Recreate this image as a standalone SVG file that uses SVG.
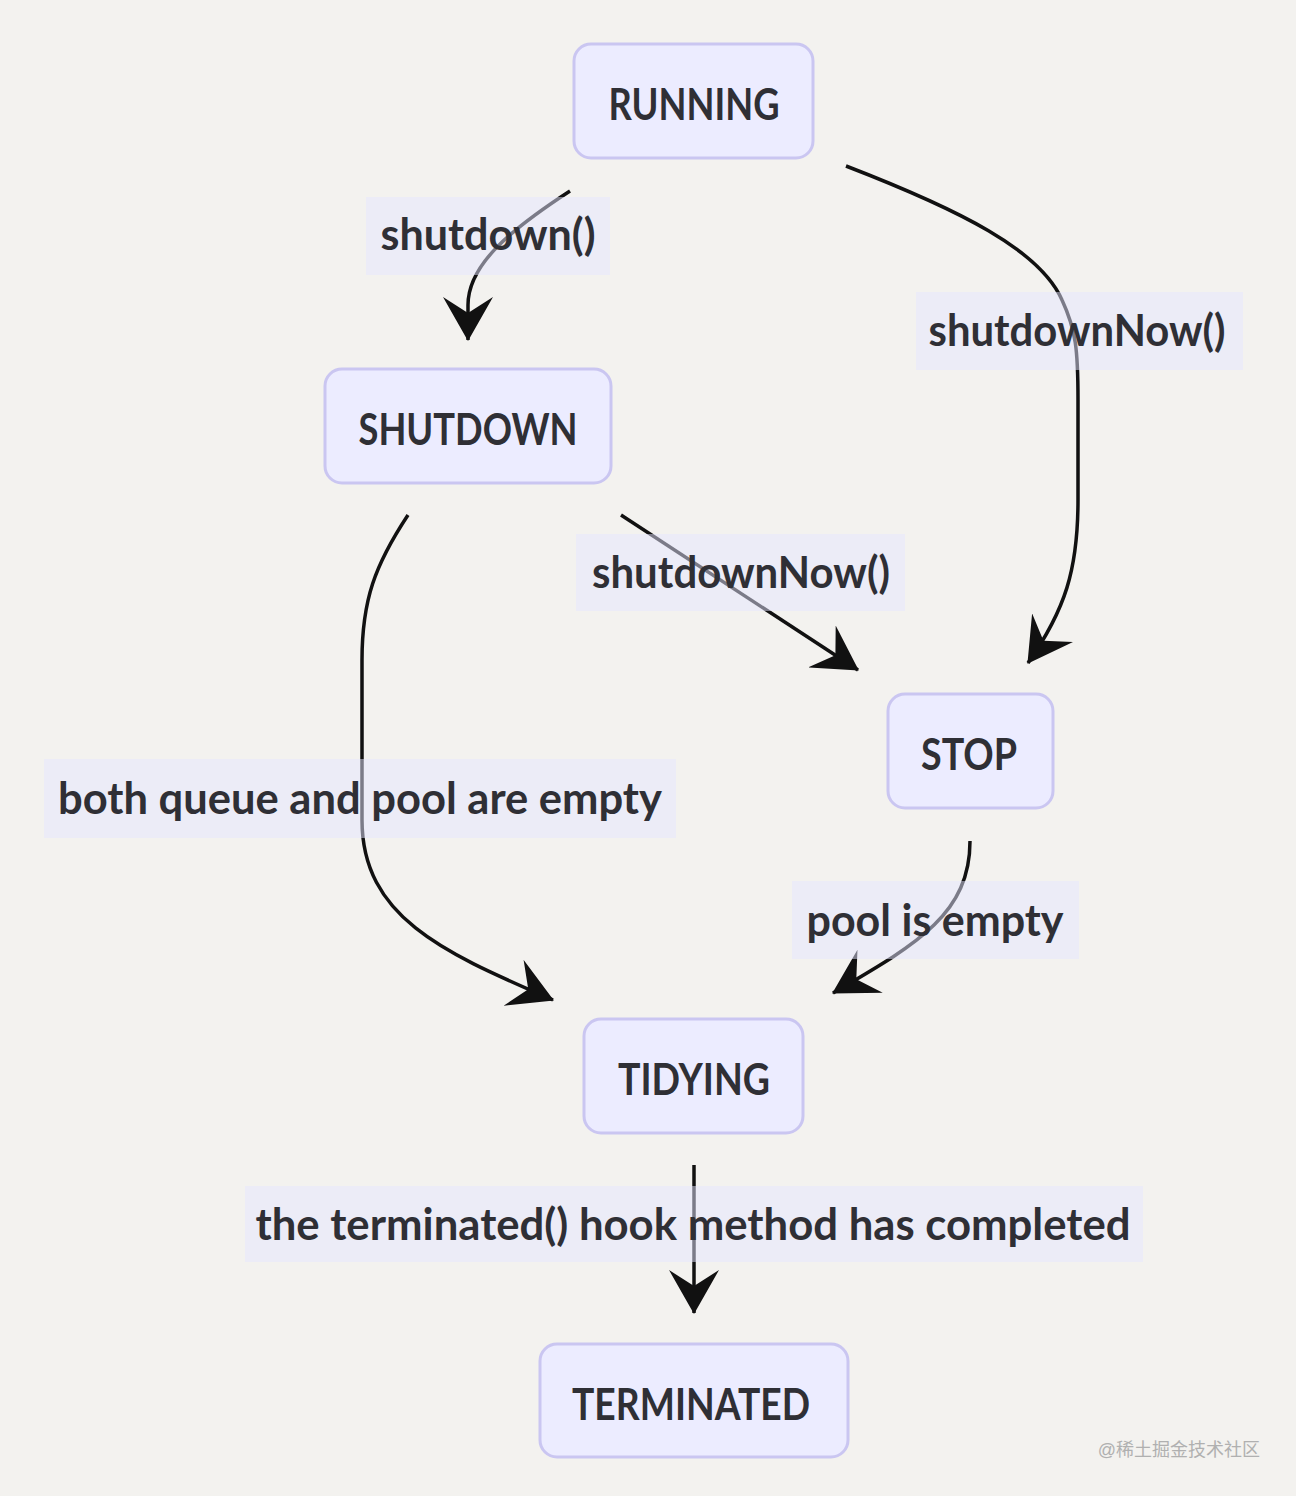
<svg xmlns="http://www.w3.org/2000/svg" width="1296" height="1496" viewBox="0 0 1296 1496">
<style>
.node rect{fill:#ECECFF;stroke:#CAC6F1;stroke-width:3}
.node text{font-family:Lato,"Open Sans","Liberation Sans",sans-serif;font-weight:700;font-size:43px;fill:#2f2f35;text-anchor:middle}
.edge{fill:none;stroke:#111;stroke-width:3.5;marker-end:url(#arrow)}
.lbl rect{fill:#e6e6ff;fill-opacity:0.5}
.lbl text{font-family:Lato,"Open Sans","Liberation Sans",sans-serif;font-weight:700;font-size:43px;fill:#2f2f35;text-anchor:middle}
</style>
<defs>
<marker id="arrow" viewBox="0 0 44 50" refX="43" refY="25" markerWidth="44" markerHeight="50" markerUnits="userSpaceOnUse" orient="auto">
<path d="M44,25 L0,50 L16,25 L0,0 Z" fill="#111"/>
</marker>
</defs>
<rect width="1296" height="1496" fill="#f3f2ef"/>
<g id="connectors">
<path class="edge" d="M570,191 C510,230 468,265 468,305 L468,340"/>
<path class="edge" d="M846,166 C960,210 1040,250 1062,300 C1076,330 1078,350 1078,400 L1078,500 C1078,570 1065,610 1028,663"/>
<path class="edge" d="M621,515 L858,670"/>
<path class="edge" d="M408,515 C375,565 362,600 362,660 L362,820 C362,920 450,955 553,1000"/>
<path class="edge" d="M970,841 C970,915 915,945 833,993"/>
<path class="edge" d="M694,1165 L694,1313"/>
</g>
<g id="edge-labels">
<g class="lbl" id="label-shutdown"><rect x="366" y="197" width="244" height="78"/><text x="488" y="250" textLength="215" lengthAdjust="spacingAndGlyphs">shutdown()</text></g>
<g class="lbl" id="label-shutdownNow-1"><rect x="916" y="292" width="327" height="78"/><text x="1077" y="346" textLength="297" lengthAdjust="spacingAndGlyphs">shutdownNow()</text></g>
<g class="lbl" id="label-shutdownNow-2"><rect x="576" y="534" width="329" height="77"/><text x="741" y="588" textLength="298" lengthAdjust="spacingAndGlyphs">shutdownNow()</text></g>
<g class="lbl" id="label-both"><rect x="44" y="759" width="632" height="79"/><text x="360" y="814" textLength="604" lengthAdjust="spacingAndGlyphs">both queue and pool are empty</text></g>
<g class="lbl" id="label-pool"><rect x="792" y="881" width="287" height="78"/><text x="935" y="936" textLength="257" lengthAdjust="spacingAndGlyphs">pool is empty</text></g>
<g class="lbl" id="label-terminated"><rect x="245" y="1186" width="898" height="76"/><text x="693" y="1240" textLength="875" lengthAdjust="spacingAndGlyphs">the terminated() hook method has completed</text></g>
</g>
<g class="node" id="RUNNING"><rect x="574" y="44" width="239" height="114" rx="17"/><text x="694" y="120" textLength="171" lengthAdjust="spacingAndGlyphs">RUNNING</text></g>
<g class="node" id="SHUTDOWN"><rect x="325" y="369" width="286" height="114" rx="17"/><text x="468" y="445" textLength="219" lengthAdjust="spacingAndGlyphs">SHUTDOWN</text></g>
<g class="node" id="STOP"><rect x="888" y="694" width="165" height="114" rx="17"/><text x="969" y="770" textLength="96" lengthAdjust="spacingAndGlyphs">STOP</text></g>
<g class="node" id="TIDYING"><rect x="584" y="1019" width="219" height="114" rx="17"/><text x="694" y="1095" textLength="152" lengthAdjust="spacingAndGlyphs">TIDYING</text></g>
<g class="node" id="TERMINATED"><rect x="540" y="1344" width="308" height="113" rx="17"/><text x="691" y="1420" textLength="238" lengthAdjust="spacingAndGlyphs">TERMINATED</text></g>
<text x="1260" y="1456" text-anchor="end" font-family="'Liberation Sans','Noto Sans CJK SC',sans-serif" font-size="18" fill="#b0b0b0">@稀土掘金技术社区</text>
</svg>
